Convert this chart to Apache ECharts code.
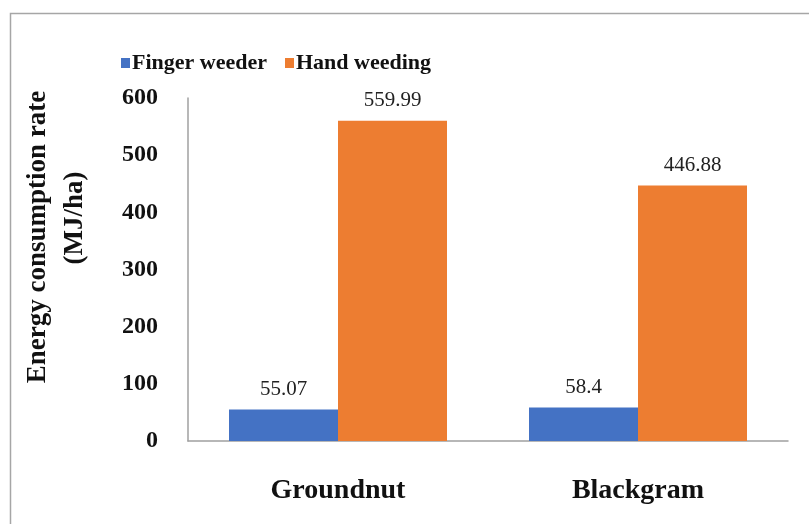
<!DOCTYPE html>
<html>
<head>
<meta charset="utf-8">
<script src="https://cdn.jsdelivr.net/npm/echarts@6/dist/echarts.min.js"></script>
<style>
html,body{margin:0;padding:0;background:#fff;}
#chart{width:809px;height:524px;}
</style>
</head>
<body>
<div id="chart"></div>
<script>
const categories = ['Groundnut', 'Blackgram'];
const fingerWeeder = [55.07, 58.4];
const handWeeding = [559.99, 446.88];
const seriesNames = ['Finger weeder', 'Hand weeding'];
const yTitleLine1 = 'Energy consumption rate';
const yTitleLine2 = '(MJ/ha)';

const serif = '"Liberation Serif", "Times New Roman", serif';
const chart = echarts.init(document.getElementById('chart'), null, {renderer: 'canvas'});

const labelStyle = {
  show: true,
  position: 'top',
  distance: 10,
  fontFamily: serif,
  fontSize: 21,
  color: '#222'
};

chart.setOption({
  backgroundColor: '#fff',
  animation: false,
  graphic: [
    {
      type: 'rect',
      shape: {x: 10.5, y: 13.5, width: 830, height: 540},
      style: {fill: 'none', stroke: '#a6a6a6', lineWidth: 1.5},
      silent: true
    },
    {
      type: 'text',
      x: 38, y: 237,
      rotation: Math.PI / 2,
      style: {
        text: yTitleLine1,
        fontFamily: serif, fontWeight: 'bold', fontSize: 27,
        fill: '#111', textAlign: 'center', textVerticalAlign: 'middle'
      }
    },
    {
      type: 'text',
      x: 75, y: 218,
      rotation: Math.PI / 2,
      style: {
        text: yTitleLine2,
        fontFamily: serif, fontWeight: 'bold', fontSize: 27,
        fill: '#111', textAlign: 'center', textVerticalAlign: 'middle'
      }
    }
  ],
  legend: {
    left: 116,
    top: 47,
    itemWidth: 9,
    itemHeight: 10,
    itemGap: 18,
    icon: 'rect',
    textStyle: {fontFamily: serif, fontWeight: 'bold', fontSize: 22, color: '#111', padding: [0, 0, 0, -3]},
    data: seriesNames
  },
  grid: {left: 188, right: 21, top: 98, bottom: 83, containLabel: false},
  xAxis: {
    type: 'category',
    data: categories,
    axisLine: {show: true, lineStyle: {color: '#a0a0a0', width: 1.5}},
    axisTick: {show: false},
    axisLabel: {
      margin: 36,
      fontFamily: serif, fontWeight: 'bold', fontSize: 28, color: '#111'
    }
  },
  yAxis: {
    type: 'value',
    min: 0, max: 600, interval: 100,
    axisLine: {show: true, lineStyle: {color: '#a0a0a0', width: 1.5}},
    axisTick: {show: false},
    splitLine: {show: false},
    axisLabel: {
      margin: 30,
      fontFamily: serif, fontWeight: 'bold', fontSize: 24, color: '#111'
    }
  },
  series: [
    {
      name: seriesNames[0],
      type: 'bar',
      data: fingerWeeder,
      barWidth: 109,
      barGap: '0%',
      itemStyle: {color: '#4472C4'},
      label: labelStyle
    },
    {
      name: seriesNames[1],
      type: 'bar',
      data: handWeeding,
      barWidth: 109,
      barGap: '0%',
      itemStyle: {color: '#ED7D31'},
      label: labelStyle
    }
  ]
});
</script>
</body>
</html>
